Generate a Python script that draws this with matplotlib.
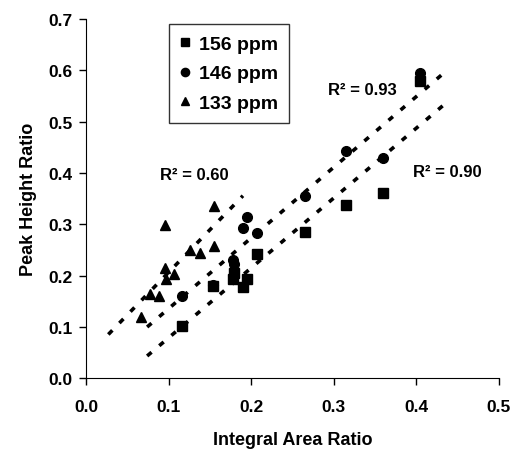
import numpy as np
import matplotlib
matplotlib.use("Agg")
import matplotlib.pyplot as plt

plt.rcParams['font.family'] = ['Liberation Sans', 'DejaVu Sans']
plt.rcParams['font.weight'] = 'bold'

# 156 ppm (squares)
x156 = [0.116, 0.154, 0.178, 0.179, 0.190, 0.195, 0.207, 0.265, 0.315, 0.359, 0.404]
y156 = [0.102, 0.180, 0.194, 0.205, 0.177, 0.194, 0.242, 0.286, 0.338, 0.361, 0.580]

# 146 ppm (circles)
x146 = [0.116, 0.154, 0.178, 0.179, 0.190, 0.195, 0.207, 0.265, 0.315, 0.359, 0.404]
y146 = [0.161, 0.182, 0.231, 0.223, 0.292, 0.314, 0.283, 0.355, 0.442, 0.429, 0.595]

# 133 ppm (triangles)
x133 = [0.067, 0.078, 0.088, 0.096, 0.097, 0.106, 0.096, 0.126, 0.138, 0.155, 0.155]
y133 = [0.119, 0.164, 0.160, 0.214, 0.193, 0.203, 0.299, 0.250, 0.244, 0.258, 0.336]

# trendline extents and R^2 labels
fit_range = {'156': (0.074, 0.438), '146': (0.074, 0.435), '133': (0.027, 0.190)}
r2_text = {'156': 'R² = 0.90', '146': 'R² = 0.93', '133': 'R² = 0.60'}
r2_pos = {'156': (0.438, 0.403), '146': (0.335, 0.563), '133': (0.131, 0.398)}

fig = plt.figure(figsize=(5.16, 4.52), dpi=100)
ax = fig.add_axes([0.1667, 0.1608, 0.8003, 0.795])

series = [('156', x156, y156, 's', 6.5), ('146', x146, y146, 'o', 7), ('133', x133, y133, '^', 7.5)]
for name, xs, ys, mk, ms in series:
    ax.plot(xs, ys, linestyle='none', marker=mk, color='black', markersize=ms,
            label=name + ' ppm')
    k, b = np.polyfit(xs, ys, 1)
    x0, x1 = fit_range[name]
    ax.plot([x0, x1], [k * x0 + b, k * x1 + b], color='black', lw=2.6,
            linestyle=(0, (1.6, 2.8)), zorder=1)
    tx, ty = r2_pos[name]
    ax.text(tx, ty, r2_text[name], ha='center', va='center', fontsize=12,
            fontweight='bold')

ax.set_xlim(0, 0.5)
ax.set_ylim(0, 0.7)
ax.set_xticks(np.arange(0, 0.51, 0.1))
ax.set_yticks(np.arange(0, 0.71, 0.1))
ax.xaxis.set_major_formatter(matplotlib.ticker.FormatStrFormatter('%.1f'))
ax.yaxis.set_major_formatter(matplotlib.ticker.FormatStrFormatter('%.1f'))
ax.tick_params(direction='out', length=5, width=1, labelsize=12.5)
ax.tick_params(axis='x', pad=10)
ax.tick_params(axis='y', pad=5)
for lab in ax.get_xticklabels() + ax.get_yticklabels():
    lab.set_fontweight('bold')
ax.spines['top'].set_visible(False)
ax.spines['right'].set_visible(False)

ax.set_xlabel('Integral Area Ratio', fontsize=13, fontweight='bold', labelpad=12)
ax.set_ylabel('Peak Height Ratio', fontsize=13, fontweight='bold', labelpad=8)

leg = ax.legend(loc='upper left', bbox_to_anchor=(0.2, 0.985), fontsize=14,
                frameon=True, fancybox=False, edgecolor='black', handlelength=0.6,
                handletextpad=0.4, borderpad=0.55, labelspacing=0.62, markerscale=0.85,
                borderaxespad=0)
leg.get_frame().set_linewidth(1)
for t in leg.get_texts():
    t.set_fontweight('bold')

fig.savefig('out.png', dpi=100)
